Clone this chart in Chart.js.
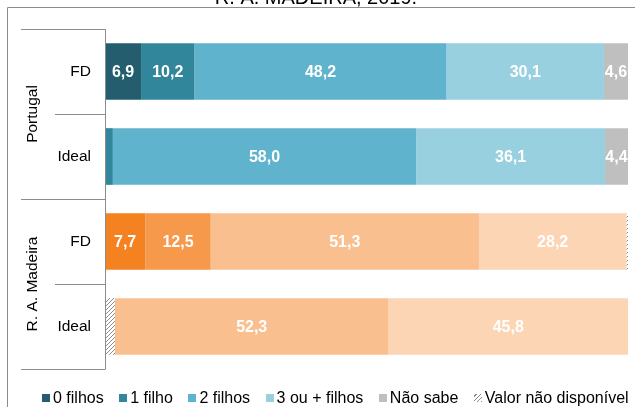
<!DOCTYPE html>
<html>
<head>
<meta charset="utf-8">
<script src="https://cdn.jsdelivr.net/npm/chart.js@4.4.1/dist/chart.umd.min.js"></script>
<style>
	body { margin: 0; background: #fff; font-family: "Liberation Sans", Arial, sans-serif; }
	#wrap { position: relative; width: 635px; height: 407px; overflow: hidden; }
	#legend { position: absolute; left: 42px; top: 389px; display: flex; align-items: center; font-size: 16px; line-height: 18px; color: #000; white-space: nowrap; }
	#legend .item { display: flex; align-items: center; margin-right: 15.5px; }
	#legend .box { display: inline-block; width: 8px; height: 8px; margin-right: 3px; }
</style>
</head>
<body>
<div id="wrap">
	<canvas id="myChart" width="635" height="407"></canvas>
	<div id="legend"></div>
</div>
<script>
const titleText = "R. A. MADEIRA, 2019.";
const categories = ["FD", "Ideal", "FD", "Ideal"];
const groups = ["Portugal", "R. A. Madeira"];
const seriesNames = ["0 filhos", "1 filho", "2 filhos", "3 ou + filhos", "Não sabe", "Valor não disponível"];

// valores em %
const semDadosInicio = [0, 0, 0, 1.9];
const zeroFilhos = [6.9, 0, 7.7, 0];
const umFilho = [10.2, 1.5, 12.5, 0];
const doisFilhos = [48.2, 58.0, 51.3, 52.3];
const tresMais = [30.1, 36.1, 28.2, 45.8];
const naoSabe = [4.6, 4.4, 0, 0];
const semDadosFim = [0, 0, 0.3, 0.2];

const azuis = ["#245e6e", "#31869b", "#5fb3cd", "#98d0df", "#bfbfbf"];
const laranjas = ["#f58220", "#f7994b", "#f9bf8f", "#fcd5b5", "#bfbfbf"];
const font = "'Liberation Sans', Arial, sans-serif";

// padrao tracejado para "valor nao disponivel"
const makeHatch = () => {
	const c = document.createElement("canvas");
	c.width = 4;
	c.height = 4;
	const g = c.getContext("2d");
	g.fillStyle = "#fff";
	g.fillRect(0, 0, 4, 4);
	g.strokeStyle = "#8a8a8a";
	g.lineWidth = 1;
	g.beginPath();
	g.moveTo(0, 4);
	g.lineTo(4, 0);
	g.moveTo(-1, 1);
	g.lineTo(1, -1);
	g.moveTo(3, 5);
	g.lineTo(5, 3);
	g.stroke();
	return g.createPattern(c, "repeat");
};
const hatch = makeHatch();

const colorsFor = (k) => categories.map((c, i) => (i < 2 ? azuis[k] : laranjas[k]));

const series = [zeroFilhos, umFilho, doisFilhos, tresMais, naoSabe];
const datasets = [
	{ label: "nd-inicio", data: semDadosInicio, backgroundColor: hatch, showValue: false },
];
series.forEach((s, k) => {
	datasets.push({ label: seriesNames[k], data: s, backgroundColor: colorsFor(k), showValue: true });
});
datasets.push({ label: seriesNames[5], data: semDadosFim, backgroundColor: hatch, showValue: false });
datasets.forEach((d) => {
	d.borderWidth = 0;
	d.barPercentage = 0.667;
	d.categoryPercentage = 1;
});

const fmt = (v) => v.toFixed(1).replace(".", ",");

const decorPlugin = {
	id: "decor",
	afterDatasetsDraw(chart) {
		const { ctx } = chart;
		ctx.save();
		ctx.fillStyle = "#fff";
		ctx.font = "bold 16px " + font;
		ctx.textAlign = "center";
		ctx.textBaseline = "middle";
		chart.data.datasets.forEach((ds, di) => {
			if (!ds.showValue) return;
			const meta = chart.getDatasetMeta(di);
			meta.data.forEach((bar, i) => {
				const v = ds.data[i];
				if (v < 4) return;
				const { x, base, y } = bar.getProps(["x", "base", "y"], true);
				ctx.fillText(fmt(v), (x + base) / 2, y + 1);
			});
		});
		ctx.restore();
	},
	afterDraw(chart) {
		const { ctx, chartArea } = chart;
		const yScale = chart.scales.y;
		const step = (chartArea.bottom - chartArea.top) / categories.length;
		ctx.save();
		ctx.strokeStyle = "#8c8c8c";
		ctx.lineWidth = 1;
		ctx.beginPath();
		// eixo vertical
		const ax = Math.round(chartArea.left) + 0.5;
		ctx.moveTo(ax, chartArea.top);
		ctx.lineTo(ax, chartArea.bottom);
		// separadores das categorias
		for (let i = 0; i <= categories.length; i++) {
			const yy = Math.round(chartArea.top + i * step) + 0.5;
			const x0 = i % 2 === 0 ? 21 : 55;
			ctx.moveTo(x0, yy);
			ctx.lineTo(ax, yy);
		}
		// moldura
		ctx.moveTo(7.5, 407);
		ctx.lineTo(7.5, 7.5);
		ctx.lineTo(635, 7.5);
		ctx.stroke();

		// nomes dos grupos
		ctx.fillStyle = "#000";
		ctx.font = "15.5px " + font;
		ctx.textAlign = "center";
		ctx.textBaseline = "middle";
		groups.forEach((g, gi) => {
			const yMid = (yScale.getPixelForValue(gi * 2) + yScale.getPixelForValue(gi * 2 + 1)) / 2;
			ctx.save();
			ctx.translate(33, yMid);
			ctx.rotate(-Math.PI / 2);
			ctx.fillText(g, 0, 0);
			ctx.restore();
		});

		// titulo (cortado no topo)
		ctx.font = "20px " + font;
		ctx.textBaseline = "alphabetic";
		ctx.fillText(titleText, 316, 3.5);
		ctx.restore();
	},
};

const ctx = document.getElementById("myChart");
const myChart = new Chart(ctx, {
	type: "bar",
	data: { labels: categories, datasets: datasets },
	options: {
		indexAxis: "y",
		responsive: false,
		animation: false,
		layout: { padding: { top: 29, bottom: 38, left: 0, right: 7 } },
		scales: {
			x: { stacked: true, min: 0, max: 100, display: false },
			y: {
				stacked: true,
				offset: true,
				grid: { display: false, drawTicks: false },
				border: { display: false },
				ticks: { color: "#000", padding: 14, font: { size: 15.5, family: font } },
				afterFit(scale) {
					scale.width = 105;
				},
			},
		},
		plugins: {
			legend: { display: false },
			tooltip: { enabled: false },
		},
	},
	plugins: [decorPlugin],
});

// legenda
const legend = document.getElementById("legend");
seriesNames.forEach((name, k) => {
	const item = document.createElement("span");
	item.className = "item";
	const box = document.createElement("span");
	box.className = "box";
	if (k < 5) box.style.background = azuis[k];
	else box.style.background = "repeating-linear-gradient(-45deg, #8a8a8a 0 1px, #fff 1px 3px)";
	item.appendChild(box);
	item.appendChild(document.createTextNode(name));
	legend.appendChild(item);
});
</script>
</body>
</html>
